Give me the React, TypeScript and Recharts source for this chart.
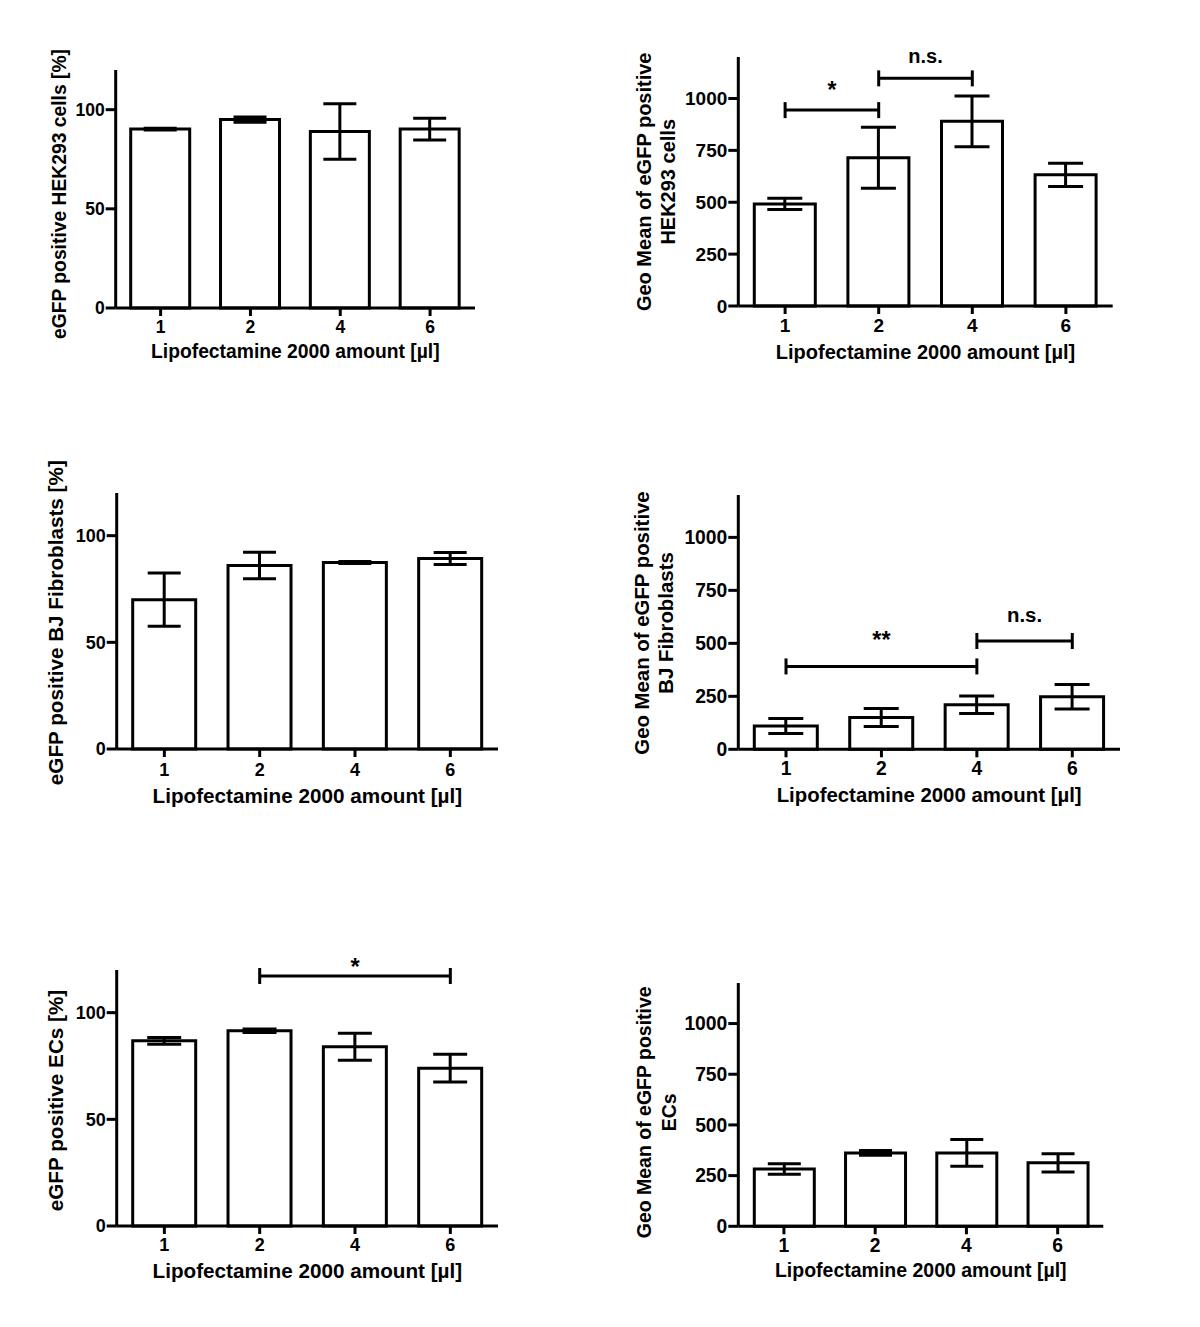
import React from 'react';
import { BarChart, Bar, XAxis, YAxis, ErrorBar, ReferenceLine } from 'recharts';

// ---------- data ----------
const categories = ['1', '2', '4', '6'];
const percentTicks = [0, 50, 100];
const geoTicks = [0, 250, 500, 750, 1000];
const percentDomain = [0, 120];
const geoDomain = [0, 1200];

const hekPercentMean = [90.2, 95.0, 89.0, 90.2];
const hekPercentErr = [0.4, 1.3, 14.0, 5.5];
const hekGeoMean = [492, 714, 890, 632];
const hekGeoErr = [27, 147, 122, 56];
const bjPercentMean = [70.0, 86.0, 87.4, 89.3];
const bjPercentErr = [12.5, 6.2, 0.5, 2.8];
const bjGeoMean = [110, 150, 210, 248];
const bjGeoErr = [35, 43, 41, 58];
const ecPercentMean = [86.8, 91.5, 84.0, 74.0];
const ecPercentErr = [1.6, 0.8, 6.3, 6.5];
const ecGeoMean = [283, 362, 362, 313];
const ecGeoErr = [26, 12, 66, 45];

const hekGeoSig = [
  { from: '1', to: '2', y: 944, text: '*' },
  { from: '2', to: '4', y: 1097, text: 'n.s.' },
];
const bjGeoSig = [
  { from: '1', to: '4', y: 391, text: '**' },
  { from: '4', to: '6', y: 511, text: 'n.s.' },
];
const ecPercentSig = [{ from: '2', to: '6', y: 117.2, text: '*' }];

const xTitle = 'Lipofectamine 2000 amount [µl]';
const hekPercentLabel = ['eGFP positive HEK293 cells [%]'];
const hekGeoLabel = ['Geo Mean of eGFP positive', 'HEK293 cells'];
const bjPercentLabel = ['eGFP positive BJ Fibroblasts [%]'];
const bjGeoLabel = ['Geo Mean of eGFP positive', 'BJ Fibroblasts'];
const ecPercentLabel = ['eGFP positive ECs [%]'];
const ecGeoLabel = ['Geo Mean of eGFP positive', 'ECs'];

const noSig: { from: string; to: string; y: number; text: string }[] = [];

// ---------- styling / layout ----------
const FONT = '"Liberation Sans", Arial, Helvetica, sans-serif';
const INK = '#000';

type Layout = {
  chartLeft: number;
  chartWidth: number;
  plotLeft: number;
  plotRight: number;
  plotTop: number;
  plotBottom: number;
  barSize: number;
  capHalf: number;
  tickFont: number;
  titleFont: number;
  tickMargin: number;
  xTitleDy: number;
  yLabelX: number[];
  yLabelCY: number;
  sigOffsets: number[];
};

const buildRows = (means: number[], errs: number[]) =>
  categories.map((c, i) => ({ cat: c, mean: means[i], err: errs[i] }));

const panels: {
  key: string;
  means: number[];
  errs: number[];
  ticks: number[];
  domain: number[];
  yLabel: string[];
  sig: { from: string; to: string; y: number; text: string }[];
  L: Layout;
}[] = [
  {
    key: 'hekPercent', means: hekPercentMean, errs: hekPercentErr, ticks: percentTicks, domain: percentDomain,
    yLabel: hekPercentLabel, sig: noSig,
    L: { chartLeft: 0, chartWidth: 540, plotLeft: 115.7, plotRight: 475, plotTop: 70, plotBottom: 308, barSize: 59,
      capHalf: 16.5, tickFont: 17.5, titleFont: 19.3, tickMargin: 4.5, xTitleDy: 45, yLabelX: [66], yLabelCY: 194, sigOffsets: [] },
  },
  {
    key: 'hekGeo', means: hekGeoMean, errs: hekGeoErr, ticks: geoTicks, domain: geoDomain,
    yLabel: hekGeoLabel, sig: hekGeoSig,
    L: { chartLeft: 590, chartWidth: 600, plotLeft: 738.3, plotRight: 1112.7, plotTop: 56.7, plotBottom: 305.7, barSize: 61,
      capHalf: 17.5, tickFont: 19, titleFont: 20, tickMargin: 4.6, xTitleDy: 47.6, yLabelX: [651, 675], yLabelCY: 181.5, sigOffsets: [12, 15] },
  },
  {
    key: 'bjPercent', means: bjPercentMean, errs: bjPercentErr, ticks: percentTicks, domain: percentDomain,
    yLabel: bjPercentLabel, sig: noSig,
    L: { chartLeft: 0, chartWidth: 540, plotLeft: 116.7, plotRight: 498, plotTop: 493.3, plotBottom: 749.3, barSize: 63,
      capHalf: 16.5, tickFont: 18, titleFont: 20.7, tickMargin: 6.3, xTitleDy: 49, yLabelX: [63], yLabelCY: 623, sigOffsets: [] },
  },
  {
    key: 'bjGeo', means: bjGeoMean, errs: bjGeoErr, ticks: geoTicks, domain: geoDomain,
    yLabel: bjGeoLabel, sig: bjGeoSig,
    L: { chartLeft: 590, chartWidth: 600, plotLeft: 738.3, plotRight: 1120, plotTop: 495, plotBottom: 749.3, barSize: 63,
      capHalf: 17.5, tickFont: 19.3, titleFont: 20.4, tickMargin: 4.3, xTitleDy: 47.4, yLabelX: [649, 673], yLabelCY: 623, sigOffsets: [18, 19] },
  },
  {
    key: 'ecPercent', means: ecPercentMean, errs: ecPercentErr, ticks: percentTicks, domain: percentDomain,
    yLabel: ecPercentLabel, sig: ecPercentSig,
    L: { chartLeft: 0, chartWidth: 540, plotLeft: 116.7, plotRight: 498, plotTop: 970, plotBottom: 1226, barSize: 63,
      capHalf: 17, tickFont: 18, titleFont: 20.7, tickMargin: 4.6, xTitleDy: 47.3, yLabelX: [63], yLabelCY: 1100.5, sigOffsets: [1] },
  },
  {
    key: 'ecGeo', means: ecGeoMean, errs: ecGeoErr, ticks: geoTicks, domain: geoDomain,
    yLabel: ecGeoLabel, sig: noSig,
    L: { chartLeft: 590, chartWidth: 600, plotLeft: 738.3, plotRight: 1103.3, plotTop: 982.7, plotBottom: 1226, barSize: 60,
      capHalf: 16.5, tickFont: 19.3, titleFont: 19.5, tickMargin: 4.3, xTitleDy: 45.7, yLabelX: [651, 676], yLabelCY: 1112, sigOffsets: [] },
  },
];

const bracketShape = (half: number) => (p: any) => {
  const { x1, y1, x2, y2 } = p;
  return (
    <g>
      <line x1={x1} y1={y1} x2={x2} y2={y2} stroke={INK} strokeWidth={3} />
      <line x1={x1} y1={y1 - half} x2={x1} y2={y1 + half} stroke={INK} strokeWidth={3} />
      <line x1={x2} y1={y2 - half} x2={x2} y2={y2 + half} stroke={INK} strokeWidth={3} />
    </g>
  );
};

function Panel({ cfg }: { cfg: (typeof panels)[number] }) {
  const { means, errs, ticks, domain, yLabel, sig, L } = cfg;
  const rows = buildRows(means, errs);
  const chartTop = L.plotTop - 60;
  const width = L.chartWidth;
  const height = L.plotBottom - chartTop + 80;
  const yAxisWidth = L.plotLeft - L.chartLeft;
  const marginRight = L.chartLeft + width - L.plotRight;
  const marginTop = L.plotTop - chartTop;
  const xAxisHeight = height - (L.plotBottom - chartTop);

  const yLabelContent = () => (
    <g>
      {yLabel.map((line, i) => (
        <text
          key={i}
          transform={`translate(${L.yLabelX[i] - L.chartLeft}, ${L.yLabelCY - chartTop}) rotate(-90)`}
          textAnchor="middle"
          fontSize={L.titleFont}
          fontWeight="bold"
          fontFamily={FONT}
          fill={INK}
        >
          {line}
        </text>
      ))}
    </g>
  );

  const xTitleContent = () => (
    <text
      x={(L.plotLeft + L.plotRight) / 2 - L.chartLeft}
      y={L.plotBottom + L.xTitleDy + 0.25 * L.titleFont - chartTop}
      textAnchor="middle"
      fontSize={L.titleFont}
      fontWeight="bold"
      fontFamily={FONT}
      fill={INK}
    >
      {xTitle}
    </text>
  );

  const tickStyle = { fill: INK, fontSize: L.tickFont, fontWeight: 'bold', fontFamily: FONT };

  return (
    <div style={{ position: 'absolute', left: L.chartLeft, top: chartTop, width, height }}>
      <BarChart
        width={width}
        height={height}
        data={rows}
        margin={{ top: marginTop, right: marginRight, bottom: 0, left: 0 }}
      >
        <XAxis
          dataKey="cat"
          type="category"
          height={xAxisHeight}
          interval={0}
          tick={tickStyle}
          tickSize={8}
          tickMargin={L.tickMargin}
          axisLine={{ stroke: INK, strokeWidth: 3 }}
          tickLine={{ stroke: INK, strokeWidth: 3 }}
          label={{ content: xTitleContent }}
        />
        <YAxis
          type="number"
          domain={domain}
          ticks={ticks}
          interval={0}
          width={yAxisWidth}
          tick={tickStyle}
          tickSize={10}
          tickMargin={1}
          axisLine={{ stroke: INK, strokeWidth: 3 }}
          tickLine={{ stroke: INK, strokeWidth: 3 }}
          label={{ content: yLabelContent }}
        />
        <Bar
          dataKey="mean"
          fill="#fff"
          stroke={INK}
          strokeWidth={3}
          barSize={L.barSize}
          isAnimationActive={false}
        >
          <ErrorBar
            dataKey="err"
            direction="y"
            width={L.capHalf}
            stroke={INK}
            strokeWidth={3}
            isAnimationActive={false}
          />
        </Bar>
        {sig.map((s, i) => (
          <ReferenceLine
            key={i}
            segment={[{ x: s.from, y: s.y }, { x: s.to, y: s.y }]}
            stroke={INK}
            strokeWidth={3}
            shape={bracketShape(8)}
            label={{
              value: s.text,
              position: 'top',
              offset: L.sigOffsets[i],
              fill: INK,
              fontSize: s.text.includes('*') ? L.titleFont + 3 : L.titleFont,
              fontWeight: 'bold',
              fontFamily: FONT,
            }}
          />
        ))}
      </BarChart>
    </div>
  );
}

export default function App() {
  return (
    <div
      style={{
        position: 'absolute',
        left: 0,
        top: 0,
        width: 1200,
        height: 1327,
        background: '#fff',
        fontFamily: FONT,
        overflow: 'hidden',
      }}
    >
      {panels.map((p) => (
        <Panel key={p.key} cfg={p} />
      ))}
    </div>
  );
}
